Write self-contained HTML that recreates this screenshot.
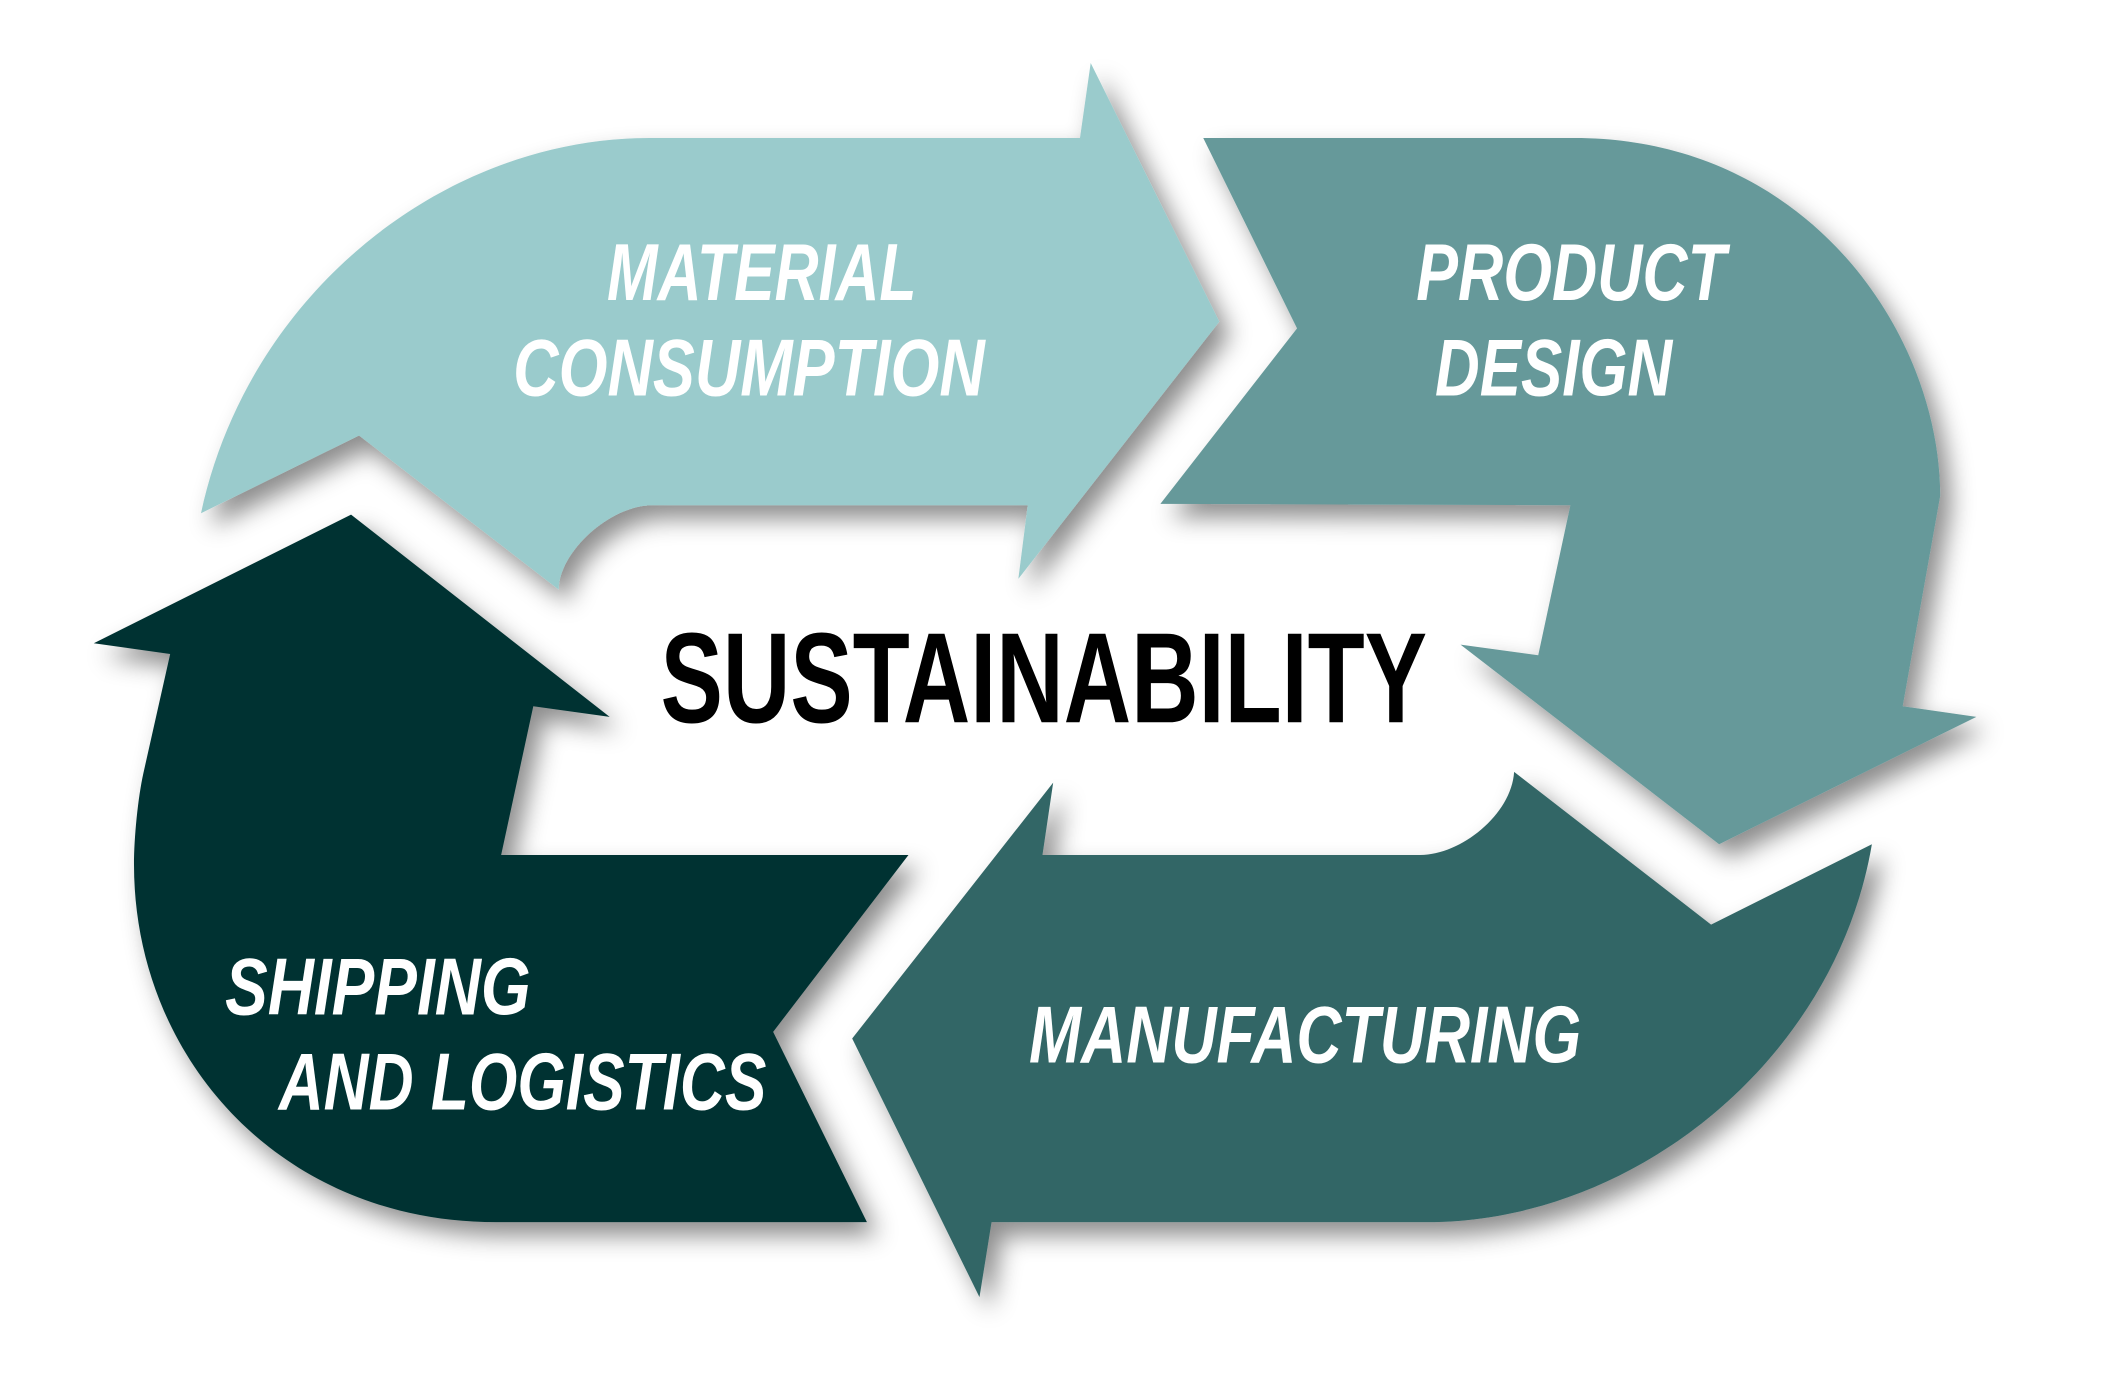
<!DOCTYPE html>
<html><head><meta charset="utf-8"><style>
html,body{margin:0;padding:0;background:#fff;}
svg{display:block;}
.t{font-family:"Liberation Sans Narrow","Liberation Sans",sans-serif;font-weight:bold;font-style:italic;fill:#fff;font-size:60px;}
</style></head><body>
<svg width="2101" height="1395" viewBox="0 0 1568 1041" preserveAspectRatio="none" xmlns="http://www.w3.org/2000/svg">
<defs>
<filter id="sh" x="-20%" y="-20%" width="140%" height="140%">
<feDropShadow dx="8" dy="10" stdDeviation="9" flood-color="#000" flood-opacity="0.45"/>
</filter>
</defs>
<g filter="url(#sh)">
<path fill="#9acbcc" d="M150,383 C185,220 330,103 485,103 L806,103 L814,47 L910,240 L760,432 L767,377 L487,377 C455,377 417,412 417,440 L268,325 Z"/>
<path fill="#66999a" d="M898,103 L1175,103 C1350,103 1448,250 1448,370 L1420,527 L1475,535 L1283,630 L1090,481 L1148,489 L1172,377 L866,376 L968,245 Z"/>
<path fill="#336666" d="M1397,630 L1277,690 L1130,576 C1128,608 1090,638 1060,638 L778,638 L786,584 L636,775 L731,968 L740,912 L1065,912 C1220,912 1370,790 1397,630 Z"/>
<path fill="#003333" d="M70,480 L262,384 L455,535 L398,527 L374,638 L678,638 L577,770 L647,912 L370,912 C210,912 100,790 100,645 C100,625 103,595 107,577 L127,488 Z"/>
</g>
<text class="t" x="453" y="224" textLength="231" lengthAdjust="spacingAndGlyphs">MATERIAL</text>
<text class="t" x="383" y="295" textLength="352" lengthAdjust="spacingAndGlyphs">CONSUMPTION</text>
<text class="t" x="1057" y="224" textLength="231" lengthAdjust="spacingAndGlyphs">PRODUCT</text>
<text class="t" x="1071" y="295" textLength="177" lengthAdjust="spacingAndGlyphs">DESIGN</text>
<text class="t" x="768" y="793" textLength="412" lengthAdjust="spacingAndGlyphs">MANUFACTURING</text>
<text class="t" x="168" y="757" textLength="228" lengthAdjust="spacingAndGlyphs">SHIPPING</text>
<text class="t" x="208" y="828" textLength="364" lengthAdjust="spacingAndGlyphs">AND LOGISTICS</text>
<text x="493" y="539" textLength="572" lengthAdjust="spacingAndGlyphs" style="font-family:'Liberation Sans Narrow','Liberation Sans',sans-serif;font-weight:bold;font-size:96px;fill:#000;">SUSTAINABILITY</text>
</svg>
</body></html>
